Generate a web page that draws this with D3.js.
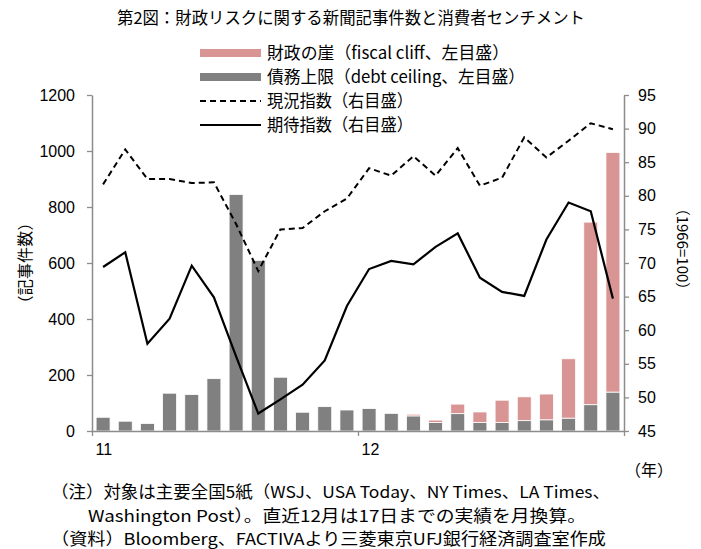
<!DOCTYPE html>
<html>
<head>
<meta charset="utf-8">
<script src="https://cdn.jsdelivr.net/npm/d3@7"></script>
<style>
  body { margin: 0; background: #fff; }
  svg text { fill: #000; }
</style>
</head>
<body>
<div class="holder"></div>
<script>
// months Jan 2011 .. Dec 2012
var months = d3.range(24)
var yearTicks = [0, 12, 24]
var yearLabels = ["11", "12", ""]

// article counts (left axis)
var debtCeiling = [49, 35, 27, 135, 130, 187, 845, 610, 192, 67, 87, 75, 80, 63, 54, 30, 62, 30, 30, 37, 40, 46, 94, 139]
var fiscalCliff = [0, 0, 0, 0, 0, 0, 0, 3, 0, 0, 0, 0, 0, 0, 6, 9, 34, 38, 80, 85, 92, 212, 652, 856]

// sentiment indices (right axis)
var current = [81.7, 86.9, 82.5, 82.5, 81.9, 82.0, 75.8, 68.8, 75.0, 75.2, 77.7, 79.6, 84.1, 83.0, 85.9, 83.0, 87.1, 81.5, 82.7, 88.7, 85.7, 88.2, 90.8, 89.9]
var expect = [69.4, 71.6, 58.0, 61.7, 69.6, 64.9, 56.1, 47.6, 49.7, 51.9, 55.5, 63.6, 69.1, 70.3, 69.8, 72.4, 74.4, 67.8, 65.7, 65.1, 73.5, 79.0, 77.7, 64.7]

var leftTicks = [0, 200, 400, 600, 800, 1000, 1200]
var rightTicks = [45, 50, 55, 60, 65, 70, 75, 80, 85, 90, 95]

var width = 701, height = 549
var pink = "#d99594", gray = "#808080", axisColor = "#8c8c8c"
var jp = "'Noto Sans CJK JP', sans-serif"
var num = "'Liberation Sans', Arial, sans-serif"

// plot area (window.top is read-only, so own names)
var plotL = 92, plotR = 624, plotT = 95, plotB = 431

var svg = d3.select(".holder").append("svg")
    .attr("width", width)
    .attr("height", height)

var xBand = d3.scaleBand().domain(months).range([plotL, plotR])
    .paddingInner(0.37).paddingOuter(0.185)
var xLin = d3.scaleLinear().domain([0, 24]).range([plotL, plotR])
var yL = d3.scaleLinear().domain([0, 1200]).range([plotB, plotT])
var yR = d3.scaleLinear().domain([45, 95]).range([plotB, plotT])

// title
svg.append("text")
    .attr("x", 351).attr("y", 24)
    .attr("text-anchor", "middle")
    .attr("textLength", 468).attr("lengthAdjust", "spacingAndGlyphs")
    .style("font-family", jp).style("font-size", "16.5px")
    .text("第2図：財政リスクに関する新聞記事件数と消費者センチメント")

// stacked bars
var stacked = months.map(function(i) { return {i: i, d: debtCeiling[i], f: fiscalCliff[i]} })

svg.append("g").selectAll("rect")
    .data(stacked).enter().append("rect")
    .attr("x", d => xBand(d.i))
    .attr("width", xBand.bandwidth())
    .attr("y", d => yL(d.d))
    .attr("height", d => yL(0) - yL(d.d))
    .style("fill", gray)
    .style("stroke", "#fff").style("stroke-width", 0.8)

svg.append("g").selectAll("rect")
    .data(stacked.filter(d => d.f > 0)).enter().append("rect")
    .attr("x", d => xBand(d.i))
    .attr("width", xBand.bandwidth())
    .attr("y", d => yL(d.d + d.f))
    .attr("height", d => yL(d.d) - yL(d.d + d.f))
    .style("fill", pink)
    .style("stroke", "#fff").style("stroke-width", 0.8)

// lines
var lineGen = function(vals) {
    return d3.line()
        .x(function(d, i) { return xBand(i) + xBand.bandwidth() / 2 })
        .y(function(d) { return yR(d) })(vals)
}

svg.append("path")
    .attr("d", lineGen(current))
    .style("fill", "none").style("stroke", "#000")
    .style("stroke-width", 2).style("stroke-dasharray", "6,4")

svg.append("path")
    .attr("d", lineGen(expect))
    .style("fill", "none").style("stroke", "#000")
    .style("stroke-width", 2.2)

// axes
function styleAxis(g) {
    g.select(".domain").attr("stroke", axisColor).attr("stroke-width", 1.5)
    g.selectAll(".tick line").attr("stroke", axisColor).attr("stroke-width", 1.3)
    g.selectAll(".tick text").style("font-family", num).style("font-size", "16px").attr("fill", "#000")
}

svg.append("g")
    .attr("transform", "translate(" + plotL + ",0)")
    .call(d3.axisLeft(yL).tickValues(leftTicks).tickFormat(d3.format("d"))
        .tickSize(5).tickPadding(12).tickSizeOuter(0))
    .call(styleAxis)

svg.append("g")
    .attr("transform", "translate(" + plotR + ",0)")
    .call(d3.axisRight(yR).tickValues(rightTicks).tickSize(5).tickPadding(9).tickSizeOuter(0))
    .call(styleAxis)

var xAxis = svg.append("g")
    .attr("transform", "translate(0," + plotB + ")")
    .call(d3.axisBottom(xLin).tickValues(yearTicks)
        .tickFormat(function(d, i) { return yearLabels[i] })
        .tickSize(5).tickPadding(8).tickSizeOuter(0))
    .call(styleAxis)
xAxis.selectAll(".tick text").attr("text-anchor", "start").attr("dx", 3)

// axis titles
svg.append("text")
    .attr("transform", "translate(31,263) rotate(-90)")
    .attr("text-anchor", "middle")
    .attr("textLength", 97).attr("lengthAdjust", "spacing")
    .style("font-family", jp).style("font-size", "16px")
    .text("（記事件数）")

svg.append("text")
    .attr("transform", "translate(677,249) rotate(90)")
    .attr("text-anchor", "middle")
    .style("font-family", jp).style("font-size", "15px")
    .text("（1966=100）")

svg.append("text")
    .attr("x", 625).attr("y", 476)
    .style("font-family", jp).style("font-size", "16px")
    .text("（年）")

// legend
var legend = [
    {label: "財政の崖（fiscal cliff、左目盛）", type: "bar", color: pink, w: 242},
    {label: "債務上限（debt ceiling、左目盛）", type: "bar", color: gray, w: 258},
    {label: "現況指数（右目盛）", type: "dash", w: 146},
    {label: "期待指数（右目盛）", type: "line", w: 146}
]
var lg = svg.append("g").selectAll("g")
    .data(legend).enter().append("g")
    .attr("transform", function(d, i) { return "translate(200," + (53 + i * 24) + ")" })

lg.filter(d => d.type == "bar").append("rect")
    .attr("x", 0).attr("y", -4).attr("width", 61).attr("height", 8)
    .style("fill", d => d.color)
lg.filter(d => d.type != "bar").append("line")
    .attr("x1", 0).attr("x2", 61).attr("y1", 0).attr("y2", 0)
    .style("stroke", "#000").style("stroke-width", 2)
    .style("stroke-dasharray", d => d.type == "dash" ? "6,4" : null)
lg.append("text")
    .attr("x", 67).attr("y", 6)
    .attr("textLength", d => d.w).attr("lengthAdjust", "spacingAndGlyphs")
    .style("font-family", jp).style("font-size", "17px")
    .text(d => d.label)

// notes
var notes = [
    {x: 51, y: 498, w: 559, t: "（注）対象は主要全国5紙（WSJ、USA Today、NY Times、LA Times、"},
    {x: 88, y: 522, w: 498, t: "Washington Post）。直近12月は17日までの実績を月換算。"},
    {x: 51, y: 545, w: 555, t: "（資料）Bloomberg、FACTIVAより三菱東京UFJ銀行経済調査室作成"}
]
svg.append("g").selectAll("text")
    .data(notes).enter().append("text")
    .attr("x", d => d.x).attr("y", d => d.y)
    .attr("textLength", d => d.w).attr("lengthAdjust", "spacingAndGlyphs")
    .style("font-family", jp).style("font-size", "16.5px")
    .text(d => d.t)
</script>
</body>
</html>
